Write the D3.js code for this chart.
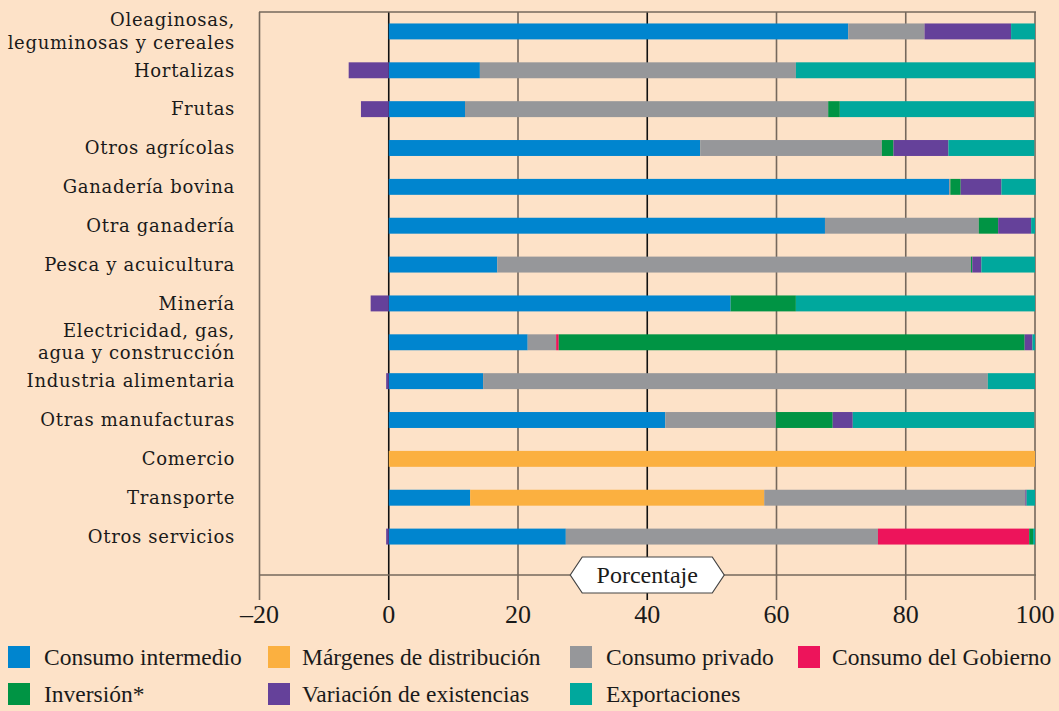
<!DOCTYPE html>
<html>
<head>
<meta charset="utf-8">
<script src="https://cdn.jsdelivr.net/npm/d3@7"></script>
<style>
  body { margin: 0; background: #fde2c8; }
  svg { display: block; }
</style>
</head>
<body>
<div class="chart"></div>
<script>
var svgWidth = 1059;
var svgHeight = 711;

// sectors, top to bottom
var sectors = [
    "Oleaginosas,|leguminosas y cereales", "Hortalizas", "Frutas", "Otros agrícolas",
    "Ganadería bovina", "Otra ganadería", "Pesca y acuicultura", "Minería",
    "Electricidad, gas,|agua y construcción", "Industria alimentaria", "Otras manufacturas",
    "Comercio", "Transporte", "Otros servicios"
];

var seriesNames = ["Consumo intermedio", "Márgenes de distribución", "Consumo privado",
    "Consumo del Gobierno", "Inversión*", "Variación de existencias", "Exportaciones"];
var seriesColors = ["#0085cf", "#fbb040", "#96979a", "#ed145b", "#009444", "#65419a", "#00a89d"];

// shares (%) for each sector, same order as sectors
var consumoIntermedio = [71.1, 14.1, 11.8, 48.2, 86.7, 67.5, 16.8, 52.9, 21.5, 14.6, 42.8, 0, 12.6, 27.4];
var margenes          = [0, 0, 0, 0, 0, 0, 0, 0, 0, 0, 0, 100, 45.5, 0];
var consumoPrivado    = [11.8, 48.9, 56.2, 28.1, 0.2, 23.8, 73.3, 0, 4.4, 78.1, 17.1, 0, 40.4, 48.3];
var consumoGobierno   = [0, 0, 0, 0, 0, 0, 0, 0, 0.4, 0, 0, 0, 0, 23.4];
var inversion         = [0, 0, 1.8, 1.8, 1.6, 3.0, 0.2, 10.1, 72.1, 0, 8.8, 0, 0, 0.6];
var variacion         = [13.4, -6.2, -4.3, 8.5, 6.3, 5.1, 1.4, -2.8, 1.2, -0.4, 3.1, 0, 0.2, -0.4];
var exportaciones     = [3.7, 37.0, 30.1, 13.3, 5.3, 0.6, 8.3, 37.0, 0.4, 7.3, 28.1, 0, 1.3, 0.3];

var xTicks = [-20, 0, 20, 40, 60, 80, 100];

var seriesValues = [consumoIntermedio, margenes, consumoPrivado, consumoGobierno,
    inversion, variacion, exportaciones];

var plot = { left: 259, right: 1035, top: 12, bottom: 556, axisY: 575, tickEnd: 600 };

var svg = d3.select(".chart")
    .append("svg")
    .attr("width", svgWidth)
    .attr("height", svgHeight);

svg.append("rect")
    .attr("width", svgWidth)
    .attr("height", svgHeight)
    .attr("fill", "#fde2c8");

var x = d3.scaleLinear()
    .domain([-20, 100])
    .range([plot.left + 0.5, plot.right]);

var y = d3.scaleBand()
    .domain(sectors)
    .range([plot.top, plot.bottom])
    .paddingInner(0.59)
    .paddingOuter(0.295);

// gridlines / ticks
svg.append("g")
    .selectAll("line")
    .data(xTicks)
    .enter()
    .append("line")
    .attr("x1", d => x(d))
    .attr("x2", d => x(d))
    .attr("y1", plot.top)
    .attr("y2", plot.tickEnd)
    .attr("stroke", d => (d === 0 || d === 40) ? "#111" : "#75685c")
    .attr("stroke-width", 1.6);

// top border and axis line
svg.append("line")
    .attr("x1", plot.left).attr("x2", plot.right + 1)
    .attr("y1", plot.top).attr("y2", plot.top)
    .attr("stroke", "#75685c").attr("stroke-width", 1.6);

svg.append("line")
    .attr("x1", plot.left).attr("x2", plot.right + 1)
    .attr("y1", plot.axisY).attr("y2", plot.axisY)
    .attr("stroke", "#75685c").attr("stroke-width", 1.6);

// stacked bars: positives stack from 0 rightwards, negatives leftwards
var segments = [];
sectors.forEach(function (s, i) {
    var pos = 0, neg = 0;
    seriesValues.forEach(function (vals, k) {
        var v = vals[i];
        if (v > 0) {
            segments.push({ sector: s, x0: pos, x1: pos + v, color: seriesColors[k] });
            pos += v;
        } else if (v < 0) {
            segments.push({ sector: s, x0: neg + v, x1: neg, color: seriesColors[k] });
            neg += v;
        }
    });
});

svg.append("g")
    .selectAll("rect")
    .data(segments)
    .enter()
    .append("rect")
    .attr("x", d => x(d.x0))
    .attr("y", d => y(d.sector))
    .attr("width", d => Math.max(0, x(d.x1) - x(d.x0)))
    .attr("height", y.bandwidth())
    .attr("fill", d => d.color);

// category labels
var labels = svg.append("g")
    .selectAll("text")
    .data(sectors)
    .enter()
    .append("text")
    .attr("x", 235)
    .attr("y", d => y(d) + y.bandwidth() / 2)
    .attr("text-anchor", "end")
    .attr("font-family", "'DejaVu Serif', serif")
    .attr("font-size", 18)
    .attr("letter-spacing", 0.7)
    .attr("fill", "#1a1a1a");

labels.each(function (d) {
    var lines = d.split("|");
    var t = d3.select(this);
    lines.forEach(function (ln, j) {
        t.append("tspan")
            .attr("x", 235)
            .attr("dy", j === 0 ? (lines.length === 1 ? "0.35em" : "-0.3em") : "1.25em")
            .text(ln);
    });
});

// tick labels
svg.append("g")
    .selectAll("text")
    .data(xTicks)
    .enter()
    .append("text")
    .attr("x", d => x(d))
    .attr("y", 623)
    .attr("text-anchor", "middle")
    .attr("font-family", "'Liberation Serif', serif")
    .attr("font-size", 26)
    .attr("fill", "#1a1a1a")
    .text(d => d < 0 ? "\u2013" + Math.abs(d) : d);

// "Porcentaje" hexagon label
var cx = x(40), cy = plot.axisY, hw = 77, hh = 18, tip = 12;
svg.append("path")
    .attr("d", `M${cx - hw},${cy} L${cx - hw + tip},${cy - hh} L${cx + hw - tip},${cy - hh} L${cx + hw},${cy} L${cx + hw - tip},${cy + hh} L${cx - hw + tip},${cy + hh} Z`)
    .attr("fill", "#fff")
    .attr("stroke", "#444")
    .attr("stroke-width", 1.2);

svg.append("text")
    .attr("x", cx)
    .attr("y", cy + 8)
    .attr("text-anchor", "middle")
    .attr("font-family", "'Liberation Serif', serif")
    .attr("font-size", 24)
    .attr("fill", "#1a1a1a")
    .text("Porcentaje");

// legend
var legendPos = [
    { sx: 8, tx: 44, y: 657 }, { sx: 268, tx: 302, y: 657 }, { sx: 570, tx: 606, y: 657 }, { sx: 798, tx: 832, y: 657 },
    { sx: 8, tx: 44, y: 694 }, { sx: 268, tx: 302, y: 694 }, { sx: 570, tx: 606, y: 694 }
];

var legend = svg.append("g")
    .selectAll("g")
    .data(seriesNames)
    .enter()
    .append("g");

legend.append("rect")
    .attr("x", (d, i) => legendPos[i].sx)
    .attr("y", (d, i) => legendPos[i].y - 11)
    .attr("width", 22)
    .attr("height", 22)
    .attr("fill", (d, i) => seriesColors[i]);

legend.append("text")
    .attr("x", (d, i) => legendPos[i].tx)
    .attr("y", (d, i) => legendPos[i].y + 8)
    .attr("font-family", "'Liberation Serif', serif")
    .attr("font-size", 23.5)
    .attr("fill", "#1a1a1a")
    .text(d => d);
</script>
</body>
</html>
